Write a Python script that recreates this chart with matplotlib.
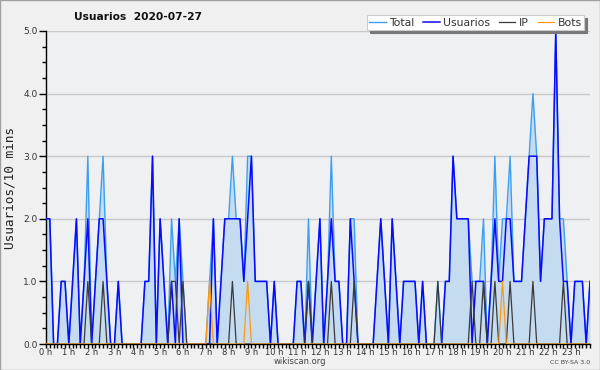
import numpy as np
import matplotlib
matplotlib.use("Agg")
import matplotlib.pyplot as plt
from matplotlib.ticker import MultipleLocator, FixedLocator, FixedFormatter, FormatStrFormatter

title = "Usuarios  2020-07-27"
ylabel = "Usuarios/10 mins"
hour_labels = [f"{h} h" for h in range(24)]
series_names = ["Total", "Usuarios", "IP", "Bots"]

# one value per 10 minutes, 6 per hour (one line = one hour)
usuarios = [
    2, 2, 0, 0, 1, 1,
    0, 1, 2, 0, 1, 2,
    0, 1, 2, 2, 1, 0,
    0, 1, 0, 0, 0, 0,
    0, 0, 1, 1, 3, 0,
    2, 1, 0, 1, 0, 2,
    0, 0, 0, 0, 0, 0,
    0, 0, 2, 0, 1, 2,
    2, 2, 2, 2, 1, 2,
    3, 1, 1, 1, 1, 0,
    1, 0, 0, 0, 0, 0,
    1, 1, 0, 1, 0, 1,
    2, 0, 1, 2, 1, 1,
    0, 0, 2, 1, 0, 0,
    0, 0, 0, 1, 2, 1,
    0, 2, 1, 0, 1, 1,
    1, 1, 0, 1, 0, 0,
    0, 0, 0, 1, 1, 3,
    2, 2, 2, 2, 0, 1,
    1, 1, 0, 1, 2, 1,
    1, 2, 2, 1, 1, 1,
    2, 3, 3, 3, 1, 2,
    2, 2, 5, 2, 1, 1,
    0, 1, 1, 1, 0, 1,
]
ip = [
    0, 0, 0, 0, 0, 0,
    0, 0, 0, 0, 0, 1,
    0, 0, 0, 1, 0, 0,
    0, 0, 0, 0, 0, 0,
    0, 0, 0, 0, 0, 0,
    0, 0, 0, 1, 1, 0,
    1, 0, 0, 0, 0, 0,
    0, 0, 0, 0, 0, 0,
    0, 1, 0, 0, 0, 0,
    0, 0, 0, 0, 0, 0,
    0, 0, 0, 0, 0, 0,
    0, 0, 0, 1, 0, 0,
    0, 0, 0, 1, 0, 0,
    0, 0, 0, 1, 0, 0,
    0, 0, 0, 0, 0, 0,
    0, 0, 0, 0, 0, 0,
    0, 0, 0, 0, 0, 0,
    0, 1, 0, 0, 0, 0,
    0, 0, 0, 0, 1, 0,
    0, 1, 0, 0, 1, 0,
    0, 0, 1, 0, 0, 0,
    0, 0, 1, 0, 0, 0,
    0, 0, 0, 0, 1, 0,
    0, 0, 0, 0, 0, 0,
]
bots = [
    0, 0, 0, 0, 0, 0,
    0, 0, 0, 0, 0, 0,
    0, 0, 0, 0, 0, 0,
    0, 0, 0, 0, 0, 0,
    0, 0, 0, 0, 0, 0,
    0, 0, 0, 0, 0, 0,
    0, 0, 0, 0, 0, 0,
    0, 1, 0, 0, 0, 0,
    0, 0, 0, 0, 0, 1,
    0, 0, 0, 0, 0, 0,
    0, 0, 0, 0, 0, 0,
    0, 0, 0, 0, 0, 0,
    0, 0, 0, 0, 0, 0,
    0, 0, 0, 0, 0, 0,
    0, 0, 0, 0, 0, 0,
    0, 0, 0, 0, 0, 0,
    0, 0, 0, 0, 0, 0,
    0, 0, 0, 0, 0, 0,
    0, 0, 0, 0, 0, 0,
    0, 0, 0, 0, 0, 0,
    1, 0, 0, 0, 0, 0,
    0, 0, 0, 0, 0, 0,
    0, 0, 0, 0, 0, 0,
    0, 0, 0, 0, 0, 0,
]
total = [
    2, 2, 0, 0, 1, 1,
    0, 1, 2, 0, 1, 3,
    0, 1, 2, 3, 1, 0,
    0, 1, 0, 0, 0, 0,
    0, 0, 1, 1, 3, 0,
    2, 1, 0, 2, 1, 2,
    1, 0, 0, 0, 0, 0,
    0, 1, 2, 0, 1, 2,
    2, 3, 2, 2, 1, 3,
    3, 1, 1, 1, 1, 0,
    1, 0, 0, 0, 0, 0,
    1, 1, 0, 2, 0, 1,
    2, 0, 1, 3, 1, 1,
    0, 0, 2, 2, 0, 0,
    0, 0, 0, 1, 2, 1,
    0, 2, 1, 0, 1, 1,
    1, 1, 0, 1, 0, 0,
    0, 1, 0, 1, 1, 3,
    2, 2, 2, 2, 1, 1,
    1, 2, 0, 1, 3, 1,
    2, 2, 3, 1, 1, 1,
    2, 3, 4, 3, 1, 2,
    2, 2, 5, 2, 2, 1,
    0, 1, 1, 1, 0, 1,
]

c_total = "#3d9ff0"
c_fill = "#c4dbf0"
c_users = "#0a0aff"
c_ip = "#3a3a3a"
c_bots = "#ff9a10"

plt.rcParams["font.family"] = ["DejaVu Sans"]

fig = plt.figure(figsize=(6.0, 3.7), dpi=100, facecolor="#f0f0f0")
ax = fig.add_axes([46 / 600, 1 - 344 / 370, 544 / 600, 313 / 370])
ax.set_facecolor("#eef0f2")

x = np.arange(len(total))
ax.fill_between(x, total, 0, color=c_fill, linewidth=0, zorder=1)
l_tot, = ax.plot(x, total, color=c_total, lw=1.0, zorder=3)
l_usr, = ax.plot(x, usuarios, color=c_users, lw=1.1, zorder=4)
l_ip, = ax.plot(x, ip, color=c_ip, lw=0.9, zorder=5)
l_bot, = ax.plot(x, bots, color=c_bots, lw=0.9, zorder=6)

ax.set_xlim(0, len(total) - 1)
ax.set_ylim(0, 5)

for s in ["top", "right"]:
    ax.spines[s].set_visible(False)
for s in ["left", "bottom"]:
    ax.spines[s].set_color("black")
    ax.spines[s].set_linewidth(1.0)

ax.yaxis.set_major_locator(MultipleLocator(1))
ax.yaxis.set_minor_locator(MultipleLocator(0.25))
ax.yaxis.set_major_formatter(FormatStrFormatter("%.1f"))
ax.grid(axis="y", which="major", color="#c8c8c8", lw=1.0, zorder=0)
ax.set_axisbelow(True)

hour_pos = list(range(0, len(total), 6))
ax.xaxis.set_major_locator(FixedLocator(hour_pos))
ax.xaxis.set_major_formatter(FixedFormatter(hour_labels))
ax.xaxis.set_minor_locator(MultipleLocator(1))

ax.tick_params(axis="y", which="major", labelsize=6.5, labelcolor="#333333",
               length=5, width=1.0, color="black", pad=1)
ax.tick_params(axis="y", which="minor", length=3, width=1.0, color="black")
ax.tick_params(axis="x", which="major", labelsize=6, labelcolor="#333333",
               length=3, width=1.0, color="black", pad=0)
ax.tick_params(axis="x", which="minor", length=3, width=1.0, color="black")

ax.set_ylabel(ylabel, family="DejaVu Sans Mono", fontsize=9.2, color="#222222",
              labelpad=5)

fig.text(74 / 600, 1 - 17 / 370, title, fontsize=7.7, fontweight="bold",
         ha="left", va="center", color="#111111")

leg = ax.legend([l_tot, l_usr, l_ip, l_bot], series_names, ncol=4,
                loc="upper right", bbox_to_anchor=(584 / 600, 1 - 15.5 / 370),
                bbox_transform=fig.transFigure, fontsize=7.8, frameon=True,
                fancybox=False, shadow={"color": "#777777", "alpha": 1.0},
                handlelength=1.5, handletextpad=0.35, columnspacing=0.8,
                borderpad=0.2, borderaxespad=0)
leg.get_frame().set_facecolor("white")
leg.get_frame().set_edgecolor("#cccccc")
leg.get_frame().set_linewidth(0.8)
leg.set_zorder(10)
for t in leg.get_texts():
    t.set_color("#333333")

fig.text(0.5, 1 - 361 / 370, "wikiscan.org", fontsize=6, ha="center",
         va="center", color="#444444")
fig.text(590 / 600, 1 - 362 / 370, "CC BY-SA 3.0", fontsize=4.5, ha="right",
         va="center", color="#444444")

fig.patches.append(plt.Rectangle((0, 0), 1, 1, transform=fig.transFigure,
                                 fill=False, edgecolor="#a0a0a0", lw=1.0))

fig.savefig("out.png", dpi=100, facecolor=fig.get_facecolor())
